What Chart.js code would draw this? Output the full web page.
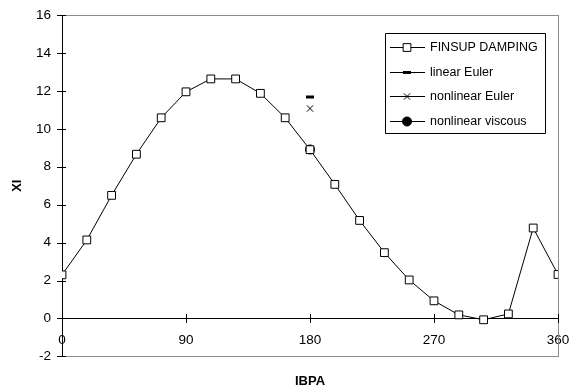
<!DOCTYPE html>
<html>
<head>
<meta charset="utf-8">
<script src="https://cdn.jsdelivr.net/npm/chart.js"></script>
<style>
  html, body { margin: 0; padding: 0; background: #fff; }
  #wrap { width: 580px; height: 389px; position: relative; }
</style>
</head>
<body>
<div id="wrap"><canvas id="myChart"></canvas></div>
<script>
// IBPA (deg) and XI values
var angles = [0, 18, 36, 54, 72, 90, 108, 126, 144, 162, 180, 198, 216, 234, 252, 270, 288, 306, 324, 342, 360];
var finsup = [2.3, 4.14, 6.49, 8.66, 10.58, 11.95, 12.63, 12.63, 11.87, 10.58, 8.9, 7.07, 5.17, 3.47, 2.03, 0.93, 0.19, -0.07, 0.24, 4.77, 2.32];
var singleAngle = [180];
var linearEuler = [11.68];
var nonlinearEuler = [11.07];
var nonlinearViscous = [8.91];
var seriesNames = ["FINSUP DAMPING", "linear Euler", "nonlinear Euler", "nonlinear viscous"];

function toPoints(xs, ys) {
    var pts = [];
    for (var i = 0; i < xs.length; i++) pts.push({x: xs[i], y: ys[i]});
    return pts;
}

var fontFam = "'Liberation Sans', Arial, sans-serif";

// frame, axis lines and the tick marks (as 1px filled rects)
var framePlugin = {
    id: 'plotFrame',
    beforeDatasetsDraw: function(chart) {
        var a = chart.chartArea, ctx = chart.ctx;
        var ys = chart.scales.y, xs = chart.scales.x;
        var l = Math.round(a.left), r = Math.round(a.right);
        var t = Math.round(a.top), b = Math.round(a.bottom);
        var y0 = Math.round(ys.getPixelForValue(0));
        ctx.save();
        // gray frame
        ctx.fillStyle = '#8c8c8c';
        ctx.fillRect(l, t, r - l + 1, 1);
        ctx.fillRect(r, t, 1, b - t + 1);
        ctx.fillRect(l, b, r - l + 1, 1);
        // black axes
        ctx.fillStyle = '#000';
        ctx.fillRect(l, t, 1, b - t + 1);
        ctx.fillRect(l, y0, r - l + 1, 1);
        ys.ticks.forEach(function(tk) {
            var py = Math.round(ys.getPixelForValue(tk.value));
            ctx.fillRect(l - 5, py, 9, 1);
        });
        xs.ticks.forEach(function(tk) {
            var px = Math.round(xs.getPixelForValue(tk.value));
            ctx.fillRect(px, y0 - 4, 1, 9);
        });
        ctx.restore();
    }
};

// legend box inside the plot, like the original
var boxLegend = {
    id: 'boxLegend',
    afterDraw: function(chart) {
        var ctx = chart.ctx;
        var bx = 385, by = 33, bw = 160, bh = 100;
        ctx.save();
        ctx.fillStyle = '#fff';
        ctx.fillRect(bx, by, bw, bh);
        ctx.strokeStyle = '#000';
        ctx.lineWidth = 1;
        ctx.beginPath();
        ctx.moveTo(bx + 0.5, by + 0.5); ctx.lineTo(bx + bw + 0.5, by + 0.5);
        ctx.lineTo(bx + bw + 0.5, by + bh + 0.5); ctx.lineTo(bx + 0.5, by + bh + 0.5);
        ctx.closePath();
        ctx.stroke();
        ctx.font = '12.5px ' + fontFam;
        ctx.textBaseline = 'middle';
        chart.data.datasets.forEach(function(ds, i) {
            var y = Math.round(by + 14 + i * 24.5) + 0.5;
            ctx.strokeStyle = '#000';
            ctx.lineWidth = 1;
            ctx.beginPath();
            ctx.moveTo(bx + 5, y);
            ctx.lineTo(bx + 40, y);
            ctx.stroke();
            ctx.fillStyle = ds.pointBackgroundColor || '#000';
            ctx.lineWidth = ds.pointBorderWidth;
            Chart.helpers.drawPoint(ctx, {
                pointStyle: ds.pointStyle,
                radius: ds.pointRadius,
                borderWidth: ds.pointBorderWidth,
                rotation: 0
            }, bx + 22, y);
            ctx.fillStyle = '#000';
            ctx.fillText(ds.label, bx + 45, y);
        });
        ctx.restore();
    }
};

var ctx = document.getElementById('myChart').getContext('2d');

var myChart = new Chart(ctx, {
    type: 'scatter',
    data: {
        datasets: [{
            label: seriesNames[0],
            data: toPoints(angles, finsup),
            showLine: true,
            borderColor: '#000',
            borderWidth: 1,
            pointStyle: 'rect',
            pointRadius: 5.5,
            pointBorderWidth: 1,
            backgroundColor: '#fff',
            pointBackgroundColor: '#fff',
            pointBorderColor: '#000'
        }, {
            label: seriesNames[1],
            data: toPoints(singleAngle, linearEuler),
            showLine: false,
            pointStyle: 'line',
            pointRadius: 4,
            pointBorderWidth: 3,
            pointBorderColor: '#000',
            pointBackgroundColor: '#000',
            backgroundColor: '#000'
        }, {
            label: seriesNames[2],
            data: toPoints(singleAngle, nonlinearEuler),
            showLine: false,
            pointStyle: 'crossRot',
            pointRadius: 4.5,
            pointBorderWidth: 1,
            pointBorderColor: '#000',
            pointBackgroundColor: '#000',
            backgroundColor: '#000'
        }, {
            label: seriesNames[3],
            data: toPoints(singleAngle, nonlinearViscous),
            showLine: false,
            pointStyle: 'circle',
            pointRadius: 4.5,
            pointBorderWidth: 1,
            pointBorderColor: '#000',
            pointBackgroundColor: '#000',
            backgroundColor: '#000'
        }]
    },
    options: {
        responsive: true,
        maintainAspectRatio: false,
        animation: false,
        layout: { padding: { top: 15, right: 22, bottom: 0, left: 0 } },
        plugins: {
            legend: { display: false },
            tooltip: { enabled: false },
            title: {
                display: true,
                text: 'IBPA',
                position: 'bottom',
                fullSize: false,
                color: '#000',
                font: { family: fontFam, size: 13, weight: 'bold' },
                padding: { top: 17, bottom: 0 }
            }
        },
        scales: {
            x: {
                type: 'linear',
                position: { y: 0 },
                min: 0,
                max: 360,
                ticks: {
                    stepSize: 90,
                    color: '#000',
                    padding: 10,
                    maxRotation: 0,
                    font: { family: fontFam, size: 13.5 }
                },
                grid: { display: true, drawOnChartArea: false, color: 'rgba(0,0,0,0)', tickLength: 4 },
                border: { display: false }
            },
            y: {
                min: -2,
                max: 16,
                afterFit: function(scale) { scale.width = 62; },
                ticks: {
                    stepSize: 2,
                    color: '#000',
                    padding: 6,
                    font: { family: fontFam, size: 13.5 }
                },
                grid: { display: true, drawOnChartArea: false, color: 'rgba(0,0,0,0)', tickLength: 5 },
                border: { display: false },
                title: {
                    display: true,
                    text: 'XI',
                    color: '#000',
                    font: { family: fontFam, size: 13, weight: 'bold' },
                    padding: { top: 10, bottom: 0 }
                }
            }
        }
    },
    plugins: [framePlugin, boxLegend]
});
</script>
</body>
</html>
